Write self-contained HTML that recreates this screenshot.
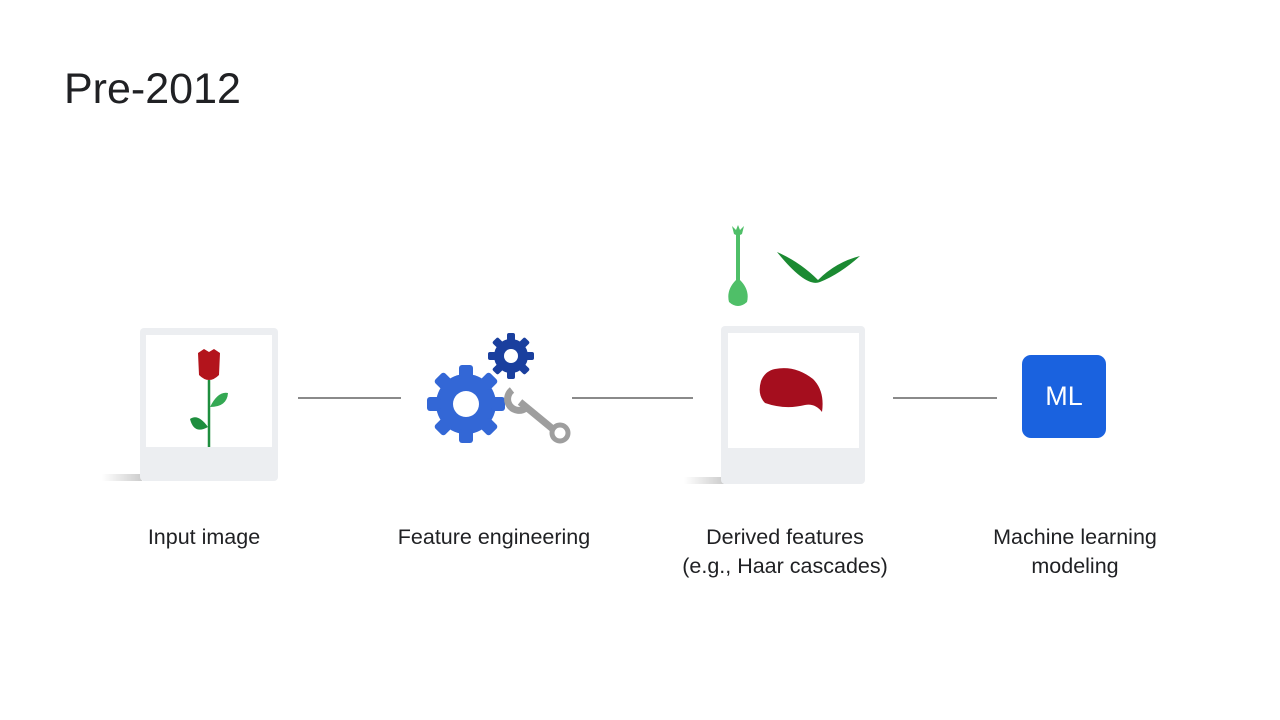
<!DOCTYPE html>
<html><head><meta charset="utf-8"><style>
body{margin:0;width:1280px;height:720px;background:#fff;position:relative;overflow:hidden;font-family:"Liberation Sans",sans-serif;color:#202124}
.t{position:absolute;font-size:21.5px;text-align:center;line-height:29px;width:300px}
.line{position:absolute;height:1.5px;background:#8a8a8a;top:397px}
</style></head><body>
<div style="position:absolute;left:64px;top:65px;font-size:43px;">Pre-2012</div>

<div style="position:absolute;left:102px;top:474px;width:40px;height:7px;background:linear-gradient(to right,#fff,#ccc)"></div>
<div style="position:absolute;left:140px;top:328px;width:138px;height:153px;background:#eceef1;border-radius:4px"></div>
<div style="position:absolute;left:146px;top:335px;width:126px;height:112px;background:#fff"></div>
<svg style="position:absolute;left:180px;top:345px" width="60" height="105">
<line x1="29" y1="35" x2="29" y2="102" stroke="#1e8e3e" stroke-width="2.5"/>
<path d="M30 62 Q38 46 48 48 Q47 62 30 62Z" fill="#34a853"/>
<path d="M28 82 Q18 68 10 74 Q14 90 28 82Z" fill="#1e8e3e"/>
<path d="M18 8 L24 4 L29 7 L34 4 L40 8 L39 30 Q29 40 19 30Z" fill="#b3141c"/>
</svg>

<div class="line" style="left:298px;width:103px"></div>

<svg style="position:absolute;left:420px;top:330px" width="160" height="120">
<g fill="#3367d6" transform="translate(46,74)">
<circle r="30"/>
<g id="tt"><rect x="-7" y="-39" width="14" height="14" rx="3"/></g>
<use href="#tt" transform="rotate(45)"/><use href="#tt" transform="rotate(90)"/><use href="#tt" transform="rotate(135)"/>
<use href="#tt" transform="rotate(180)"/><use href="#tt" transform="rotate(225)"/><use href="#tt" transform="rotate(270)"/><use href="#tt" transform="rotate(315)"/>
<circle r="13" fill="#fff"/>
</g>
<g fill="#1a3f9e" transform="translate(91,26)">
<circle r="17"/>
<g id="t2"><rect x="-4" y="-23" width="8" height="8" rx="2"/></g>
<use href="#t2" transform="rotate(45)"/><use href="#t2" transform="rotate(90)"/><use href="#t2" transform="rotate(135)"/>
<use href="#t2" transform="rotate(180)"/><use href="#t2" transform="rotate(225)"/><use href="#t2" transform="rotate(270)"/><use href="#t2" transform="rotate(315)"/>
<circle r="7" fill="#fff"/>
</g>
<g stroke="#9e9e9e" fill="none">
<line x1="100" y1="72" x2="134" y2="100" stroke-width="7"/>
<circle cx="140" cy="103" r="8" stroke-width="5"/>
<path d="M92 60 A10 10 0 0 0 106 78" stroke-width="7"/>
</g>
</svg>

<div class="line" style="left:572px;width:121px"></div>

<svg style="position:absolute;left:720px;top:222px" width="150" height="90">
<path d="M12 4 L16 8 L18 3 L20 8 L24 4 L22 12 L20 13 L20 58 Q30 68 27 80 Q18 88 9 80 Q6 68 16 58 L16 13 L14 12 Z" fill="#4fbf68"/>
<path d="M57 30 Q80 40 98 58 Q116 40 140 34 Q120 52 100 60 Q86 66 57 30Z" fill="#1b8a32"/>
</svg>
<div style="position:absolute;left:684px;top:477px;width:40px;height:7px;background:linear-gradient(to right,#fff,#ccc)"></div>
<div style="position:absolute;left:721px;top:326px;width:144px;height:158px;background:#eceef1;border-radius:4px"></div>
<div style="position:absolute;left:728px;top:333px;width:131px;height:115px;background:#fff"></div>
<svg style="position:absolute;left:755px;top:365px" width="75" height="50">
<path d="M20 4 Q40 0 58 14 Q70 26 67 47 Q60 38 50 40 Q30 45 10 38 Q2 30 6 16 Q10 6 20 4Z" fill="#a50e1e"/>
</svg>

<div class="line" style="left:893px;width:104px"></div>

<div style="position:absolute;left:1022px;top:355px;width:84px;height:83px;background:#1a62df;border-radius:9px;color:#fff;font-size:27px;line-height:83px;text-align:center">ML</div>

<div class="t" style="left:54px;top:523px">Input image</div>
<div class="t" style="left:344px;top:523px">Feature engineering</div>
<div class="t" style="left:635px;top:523px">Derived features<br>(e.g., Haar cascades)</div>
<div class="t" style="left:925px;top:523px">Machine learning<br>modeling</div>
</body></html>
